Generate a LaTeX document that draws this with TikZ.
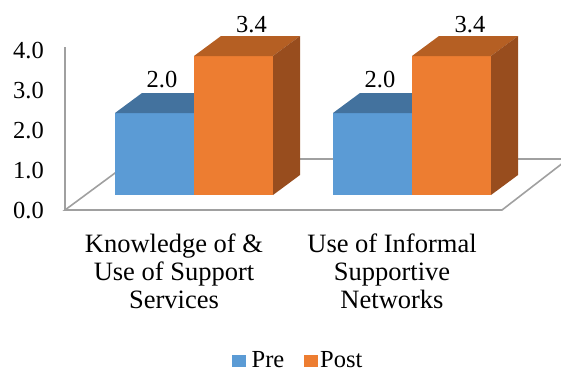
\documentclass[tikz,border=0pt]{standalone}
\usepackage{fontspec}
\setmainfont{Liberation Serif}
\definecolor{bluefront}{RGB}{91,155,213}
\definecolor{bluetop}{RGB}{67,114,158}
\definecolor{orangefront}{RGB}{237,125,49}
\definecolor{orangetop}{RGB}{181,95,35}
\definecolor{orangeside}{RGB}{152,77,30}
\definecolor{axisgray}{RGB}{160,160,160}
\tikzset{
  axisline/.style={draw=axisgray, line width=1.6pt, line join=miter},
  ticklab/.style={anchor=base east, inner sep=0pt, font=\fontsize{24.5}{28}\selectfont},
  datalab/.style={anchor=base, inner sep=0pt, font=\fontsize{24.5}{28}\selectfont},
  catlab/.style={anchor=base, inner sep=0pt, font=\fontsize{26.5}{28}\selectfont},
  leglab/.style={anchor=base west, inner sep=0pt, font=\fontsize{24.5}{26}\selectfont},
  legbox/.style={inner sep=0pt, minimum width=14pt, minimum height=12.5pt}
}
\begin{document}
\begin{tikzpicture}[x=1pt,y=-1pt]
\useasboundingbox (0,0) rectangle (561,375);
\clip (0,0) rectangle (561,375);
% floor and vertical axis
\coordinate (fl) at (65,210);
\coordinate (fr) at (502,210);
\coordinate (br) at (568,159);
\coordinate (bl) at (134,159);
\coordinate (vt) at (65,47);
\draw[axisline] (fl) -- (fr) -- (br) -- (bl) -- cycle;
\draw[axisline] (vt) -- (fl);
% bars group 1
\fill[bluefront] (115,113) rectangle (194,195);
\fill[bluetop] (115,113) -- (142,93) -- (221,93) -- (194,113) -- cycle;
\fill[orangefront] (194,56) rectangle (273,195);
\fill[orangetop] (194,56) -- (221,36) -- (300,36) -- (273,56) -- cycle;
\fill[orangeside] (273,56) -- (300,36) -- (300,175) -- (273,195) -- cycle;
% bars group 2
\fill[bluefront] (333,113) rectangle (412,195);
\fill[bluetop] (333,113) -- (360,93) -- (439,93) -- (412,113) -- cycle;
\fill[orangefront] (412,56) rectangle (491,195);
\fill[orangetop] (412,56) -- (439,36) -- (518,36) -- (491,56) -- cycle;
\fill[orangeside] (491,56) -- (518,36) -- (518,175) -- (491,195) -- cycle;
% tick labels
\node[ticklab] (t0) at (44,218) {0.0};
\node[ticklab] (t1) at (44,178) {1.0};
\node[ticklab] (t2) at (44,138) {2.0};
\node[ticklab] (t3) at (44,98) {3.0};
\node[ticklab] (t4) at (44,58) {4.0};
% data labels
\node[datalab] (d1) at (162,87) {2.0};
\node[datalab] (d2) at (251.5,32) {3.4};
\node[datalab] (d3) at (380,87) {2.0};
\node[datalab] (d4) at (470,32) {3.4};
% category labels
\node[catlab] (c1a) at (174,252) {Knowledge of \&};
\node[catlab] (c1b) at (174,280) {Use of Support};
\node[catlab] (c1c) at (174,308) {Services};
\node[catlab] (c2a) at (392,252) {Use of Informal};
\node[catlab] (c2b) at (392,280) {Supportive};
\node[catlab] (c2c) at (392,308) {Networks};
% legend
\node[legbox, fill=bluefront] (lpre) at (239,361) {};
\node[leglab] (tpre) at (251.5,367) {Pre};
\node[legbox, fill=orangefront] (lpost) at (311,361) {};
\node[leglab] (tpost) at (320,367) {Post};
\end{tikzpicture}
\end{document}
